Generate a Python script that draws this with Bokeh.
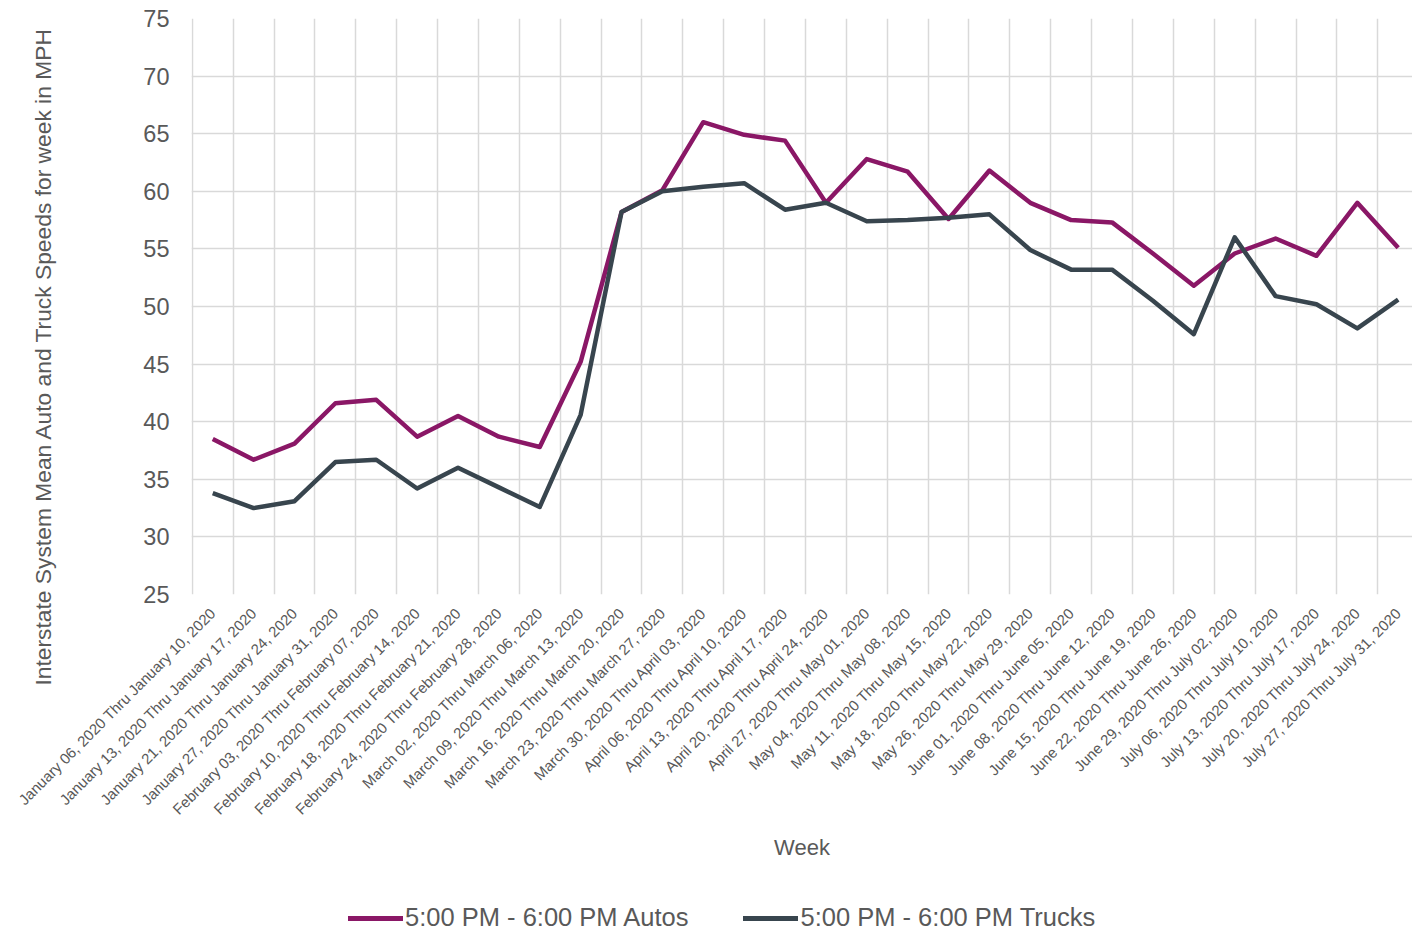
from math import pi
from bokeh.plotting import figure
from bokeh.models import Range1d, FixedTicker, Legend, Title
from bokeh.layouts import column
from bokeh.embed import file_html
from bokeh.resources import INLINE

weeks = [
    "January 06, 2020 Thru January 10, 2020",
    "January 13, 2020 Thru January 17, 2020",
    "January 21, 2020 Thru January 24, 2020",
    "January 27, 2020 Thru January 31, 2020",
    "February 03, 2020 Thru February 07, 2020",
    "February 10, 2020 Thru February 14, 2020",
    "February 18, 2020 Thru February 21, 2020",
    "February 24, 2020 Thru February 28, 2020",
    "March 02, 2020 Thru March 06, 2020",
    "March 09, 2020 Thru March 13, 2020",
    "March 16, 2020 Thru March 20, 2020",
    "March 23, 2020 Thru March 27, 2020",
    "March 30, 2020 Thru April 03, 2020",
    "April 06, 2020 Thru April 10, 2020",
    "April 13, 2020 Thru April 17, 2020",
    "April 20, 2020 Thru April 24, 2020",
    "April 27, 2020 Thru May 01, 2020",
    "May 04, 2020 Thru May 08, 2020",
    "May 11, 2020 Thru May 15, 2020",
    "May 18, 2020 Thru May 22, 2020",
    "May 26, 2020 Thru May 29, 2020",
    "June 01, 2020 Thru June 05, 2020",
    "June 08, 2020 Thru June 12, 2020",
    "June 15, 2020 Thru June 19, 2020",
    "June 22, 2020 Thru June 26, 2020",
    "June 29, 2020 Thru July 02, 2020",
    "July 06, 2020 Thru July 10, 2020",
    "July 13, 2020 Thru July 17, 2020",
    "July 20, 2020 Thru July 24, 2020",
    "July 27, 2020 Thru July 31, 2020",
]

autos = [38.5, 36.7, 38.1, 41.6, 41.9, 38.7, 40.5, 38.7, 37.8, 45.2,
         58.2, 60.1, 66.0, 64.9, 64.4, 59.0, 62.8, 61.7, 57.6, 61.8,
         59.0, 57.5, 57.3, 54.6, 51.8, 54.6, 55.9, 54.4, 59.0, 55.1]

trucks = [33.8, 32.5, 33.1, 36.5, 36.7, 34.2, 36.0, 34.3, 32.6, 40.6,
          58.2, 60.0, 60.4, 60.7, 58.4, 59.0, 57.4, 57.5, 57.7, 58.0,
          54.9, 53.2, 53.2, 50.5, 47.6, 56.0, 50.9, 50.2, 48.1, 50.6]

y_ticks = [25, 30, 35, 40, 45, 50, 55, 60, 65, 70, 75]

series_names = ["5:00 PM - 6:00 PM Autos", "5:00 PM - 6:00 PM Trucks"]
colors = ["#8A1766", "#38454E"]
y_title = "Interstate System Mean Auto and Truck Speeds for week  in MPH"

FONT = "Liberation Sans"
TEXT_COLOR = "#595959"

x = list(range(len(weeks)))

# ---------------- main chart ----------------
p = figure(frame_width=1221, frame_height=576, output_backend="svg",
           toolbar_location=None,
           x_range=Range1d(-0.52, 29.35), y_range=Range1d(25, 75),
           min_border_left=191, min_border_right=0, min_border_top=18,
           min_border_bottom=280)
p.outline_line_color = None
p.background_fill_color = "white"

r1 = p.line(x, autos, line_color=colors[0], line_width=4.5, line_join="round")
r2 = p.line(x, trucks, line_color=colors[1], line_width=4.5, line_join="round")

# grids
p.xgrid.ticker = FixedTicker(ticks=[i - 0.5 for i in range(len(weeks) + 1)])
p.ygrid.ticker = FixedTicker(ticks=y_ticks)
for g in (p.xgrid, p.ygrid):
    g.grid_line_color = "#D9D9D9"
    g.grid_line_width = 1.5

# x axis
xa = p.xaxis[0]
xa.ticker = FixedTicker(ticks=x)
xa.major_label_overrides = {i: w for i, w in enumerate(weeks)}
xa.major_label_orientation = pi / 4
xa.major_label_text_font = FONT
xa.major_label_text_font_size = "15px"
xa.major_label_text_color = TEXT_COLOR
xa.major_label_standoff = 16
xa.axis_label = "Week"
xa.axis_label_text_font = FONT
xa.axis_label_text_font_size = "22px"
xa.axis_label_text_font_style = "normal"
xa.axis_label_text_color = TEXT_COLOR
xa.axis_label_standoff = 8

# y axis (blank axis label used only as spacing so the title sits far left)
ya = p.yaxis[0]
ya.ticker = FixedTicker(ticks=y_ticks)
ya.major_label_text_font = FONT
ya.major_label_text_font_size = "23.5px"
ya.major_label_text_color = TEXT_COLOR
ya.major_label_standoff = 22
ya.axis_label = " "
ya.axis_label_text_font = FONT
ya.axis_label_text_font_size = "22px"
ya.axis_label_standoff = 34

for ax in (xa, ya):
    ax.axis_line_color = None
    ax.major_tick_line_color = None
    ax.minor_tick_line_color = None
    ax.major_tick_out = 0
    ax.major_tick_in = 0

yt = Title(text=y_title, align="left", offset=-91, standoff=46,
           text_font=FONT, text_font_size="22.8px", text_font_style="normal",
           text_color=TEXT_COLOR)
p.add_layout(yt, "left")

# ---------------- legend strip ----------------
# same series, drawn outside this strip's visible y range: only legend swatches show
lg = figure(width=1412, height=56, output_backend="svg", toolbar_location=None,
            x_range=Range1d(0, 29), y_range=Range1d(1000, 1001), min_border=0)
lg.axis.visible = False
lg.grid.visible = False
lg.outline_line_color = None
d1 = lg.line(x, autos, line_color=colors[0], line_width=5, line_cap="round")
d2 = lg.line(x, trucks, line_color=colors[1], line_width=5, line_cap="round")

legend = Legend(items=[(series_names[0], [d1]), (series_names[1], [d2])],
                orientation="horizontal", location=(157, -2),
                border_line_color=None, background_fill_alpha=0,
                label_text_font=FONT, label_text_font_size="25.5px",
                label_text_color=TEXT_COLOR,
                glyph_width=55, glyph_height=20, label_standoff=2,
                spacing=55, padding=0, margin=0)
lg.add_layout(legend)

layout = column(p, lg, spacing=0)
open("out.html", "w").write(file_html(layout, INLINE))
